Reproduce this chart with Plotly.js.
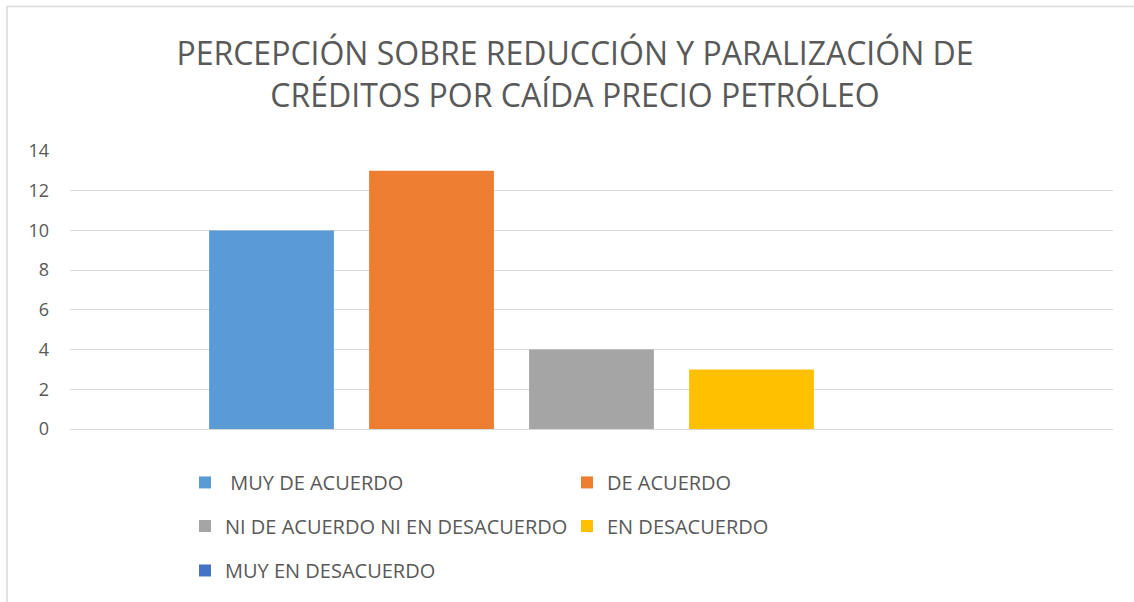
<!DOCTYPE html>
<html>
<head>
<meta charset="utf-8">
<script src="https://cdn.plot.ly/plotly-3.0.1.min.js"></script>
<style>html,body{margin:0;padding:0;background:#fff;}#chart{width:1134px;height:602px;}</style>
</head>
<body>
<div id="chart"></div>
<script>
const category = ['Total'];
const seriesNames = [' MUY DE ACUERDO', 'DE ACUERDO', 'NI DE ACUERDO NI EN DESACUERDO', 'EN DESACUERDO', 'MUY EN DESACUERDO'];
const seriesValues = [10, 13, 4, 3, 0];
const seriesColors = ['#5B9BD5', '#ED7D31', '#A5A5A5', '#FFC000', '#4472C4'];
const legendGroups = ['legend', 'legend', 'legend2', 'legend2', 'legend3'];
const yTicks = [0, 2, 4, 6, 8, 10, 12, 14];

const W = 1134, H = 602;
const L = 70, R = 21, T = 151, B = 170;
const pw = W - L - R, ph = H - T - B;
const px = v => (v - L) / pw;
const py = v => (H - B - v) / ph;

const traces = seriesNames.map((n, i) => ({
  type: 'bar',
  x: category,
  y: [seriesValues[i]],
  name: n,
  marker: {color: seriesColors[i]},
  legend: legendGroups[i],
  hoverinfo: 'y+name'
}));

const legFont = {family: 'Open Sans, Liberation Sans, sans-serif', size: 20, color: '#595959'};
const legBase = {orientation: 'h', xanchor: 'left', yanchor: 'middle', font: legFont,
  entrywidth: 337, entrywidthmode: 'pixels', itemwidth: 30, bgcolor: 'rgba(0,0,0,0)', traceorder: 'normal'};

const layout = {
  width: W, height: H,
  margin: {l: L, r: R, t: T, b: B, pad: 0},
  paper_bgcolor: '#ffffff', plot_bgcolor: '#ffffff',
  title: {
    text: 'PERCEPCIÓN SOBRE REDUCCIÓN Y PARALIZACIÓN DE<br>CRÉDITOS POR CAÍDA PRECIO PETRÓLEO',
    font: {family: 'Open Sans, Liberation Sans, sans-serif', size: 32, color: '#595959'},
    x: 575 / W, xanchor: 'center', xref: 'container', y: 1 - 65 / H, yanchor: 'middle', yref: 'container'
  },
  barmode: 'group',
  bargap: 0.233,
  bargroupgap: 0.22,
  xaxis: {showticklabels: false, showgrid: false, zeroline: false, showline: false, ticks: '', fixedrange: true},
  yaxis: {
    range: [0, 14], tickvals: yTicks, ticktext: yTicks.map(String),
    showgrid: true, gridcolor: '#D9D9D9', gridwidth: 1,
    zeroline: true, zerolinecolor: '#D9D9D9', zerolinewidth: 1,
    showline: false, ticks: '', ticklabelstandoff: 20,
    tickfont: {family: 'Open Sans, Liberation Sans, sans-serif', size: 18, color: '#595959'},
    fixedrange: true
  },
  legend: Object.assign({}, legBase, {x: px(185), y: py(486)}),
  legend2: Object.assign({}, legBase, {x: px(185), y: py(530)}),
  legend3: Object.assign({}, legBase, {x: px(185), y: py(575)}),
  shapes: [{
    type: 'rect', xref: 'paper', yref: 'paper',
    x0: px(7), x1: px(W + 20), y0: py(H + 20), y1: py(5),
    line: {color: '#D9D9D9', width: 1.5}, fillcolor: 'rgba(0,0,0,0)', layer: 'below'
  }]
};

Plotly.newPlot('chart', traces, layout, {displayModeBar: false, staticPlot: true});
</script>
</body>
</html>
